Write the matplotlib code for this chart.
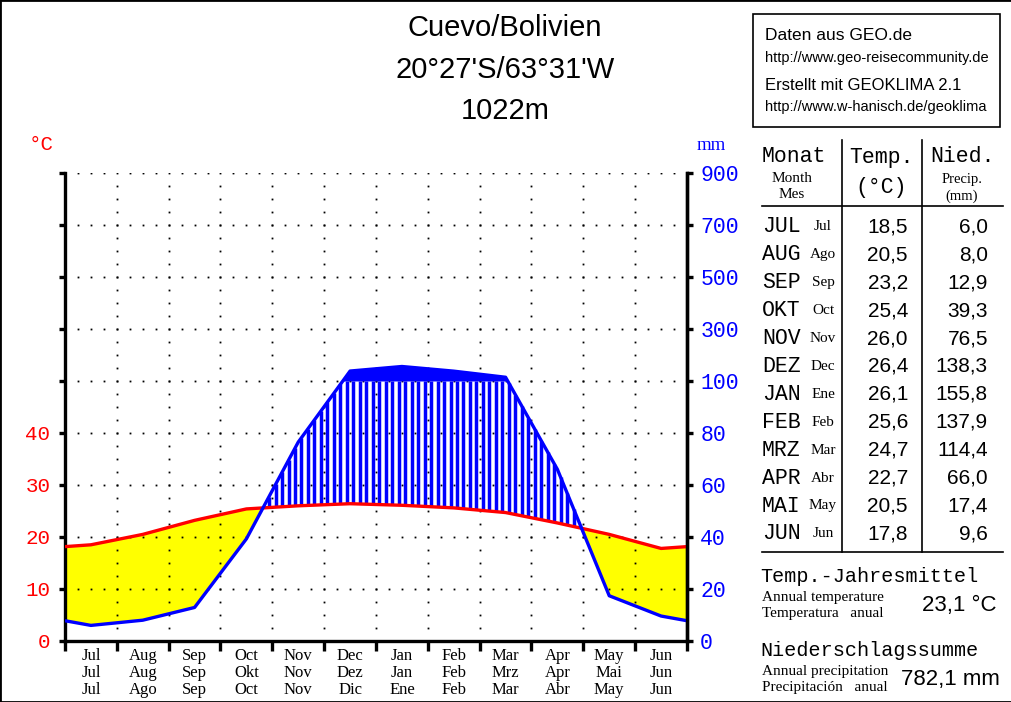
import matplotlib

matplotlib.use("Agg")
import matplotlib.pyplot as plt
import numpy as np
from matplotlib.patches import Rectangle

# climate data Cuevo / Bolivien, Jul..Jun
months_en = ["Jul", "Aug", "Sep", "Oct", "Nov", "Dec", "Jan", "Feb", "Mar", "Apr", "May", "Jun"]
months_de = ["Jul", "Aug", "Sep", "Okt", "Nov", "Dez", "Jan", "Feb", "Mrz", "Apr", "Mai", "Jun"]
months_es = ["Jul", "Ago", "Sep", "Oct", "Nov", "Dic", "Ene", "Feb", "Mar", "Abr", "May", "Jun"]
table_de = ["JUL", "AUG", "SEP", "OKT", "NOV", "DEZ", "JAN", "FEB", "MRZ", "APR", "MAI", "JUN"]
table_es = ["Jul", "Ago", "Sep", "Oct", "Nov", "Dec", "Ene", "Feb", "Mar", "Abr", "May", "Jun"]
temp = [18.5, 20.5, 23.2, 25.4, 26.0, 26.4, 26.1, 25.6, 24.7, 22.7, 20.5, 17.8]
prec = [6.0, 8.0, 12.9, 39.3, 76.5, 138.3, 155.8, 137.9, 114.4, 66.0, 17.4, 9.6]
temp_mean = "23,1 °C"
prec_sum = "782,1 mm"

W, H = 1012, 702
RED = "#ff0000"
BLUE = "#0000ff"
YELLOW = "#ffff00"
MONO = "Liberation Mono"
SERIF = "Liberation Serif"
SANS = "Liberation Sans"


def px(x, y):
    return x / W, 1 - y / H


def scale_prec(p):
    # 20 mm = 10 degC up to 100 mm, above that 200 mm = 10 degC
    p = np.asarray(p, dtype=float)
    return np.where(p <= 100, p / 2.0, 50 + (p - 100) / 20.0)


fig = plt.figure(figsize=(W / 100, H / 100), dpi=100)
ax = fig.add_axes([65 / W, 61 / H, 622 / W, 468 / H])
ax.set_xlim(0, 12)
ax.set_ylim(0, 90)

# curve points: month centres plus edge values (mean of Jun/Jul)
x = np.concatenate([[0], np.arange(12) + 0.5, [12]])
t = np.concatenate([[(temp[0] + temp[-1]) / 2], temp, [(temp[0] + temp[-1]) / 2]])
p = np.concatenate([[(prec[0] + prec[-1]) / 2], prec, [(prec[0] + prec[-1]) / 2]])
ps = scale_prec(p)

xf = np.linspace(0, 12, 2401)
tf = np.interp(xf, x, t)
pf = np.interp(xf, x, ps)

# arid season
ax.fill_between(xf, pf, tf, where=tf >= pf, interpolate=True, color=YELLOW, lw=0, zorder=1)

# dotted grid
gx = np.arange(1, 48) * 0.25
for yy in range(10, 100, 10):
    ax.plot(gx, np.full_like(gx, yy), "s", ms=1.3, mew=0, color="black", zorder=2)
gy = np.arange(1, 36) * 2.5
for xx in range(1, 12):
    ax.plot(np.full_like(gy, xx), gy, "s", ms=1.3, mew=0, color="black", zorder=2)

# humid season hatching
xh = np.arange(0, 12, 1 / 8) + 1 / 16
th = np.interp(xh, x, t)
ph = np.interp(xh, x, ps)
m = ph > th
ax.vlines(xh[m], th[m], np.minimum(ph[m], 50), color=BLUE, lw=2.5, zorder=3)

# perhumid (> 100 mm)
ax.fill_between(xf, 50, pf, where=pf > 50, interpolate=True, color=BLUE, lw=0, zorder=3)

ax.plot(x, t, color=RED, lw=2.4, zorder=5, solid_capstyle="butt")
ax.plot(x, ps, color=BLUE, lw=2.4, zorder=6, solid_capstyle="butt")

# axes
for s in ["left", "right", "bottom"]:
    ax.spines[s].set_linewidth(2.4)
ax.spines["top"].set_visible(False)
ax.set_facecolor("none")

ax.set_xticks(range(13))
ax.set_xticklabels([])
ax.tick_params(axis="x", length=7, width=2.4, direction="out")

ax.set_yticks(range(0, 100, 10))
ax.set_yticklabels(["0", "10", "20", "30", "40", "", "", "", "", ""])
ax.tick_params(axis="y", length=4.5, width=2.4, direction="out", labelcolor=RED, pad=6)
for lab in ax.get_yticklabels():
    lab.set_fontfamily(MONO)
    lab.set_fontsize(15)

ax2 = ax.twinx()
ax2.set_ylim(0, 90)
ax2.set_yticks(range(0, 100, 10))
ax2.set_yticklabels(["0", "20", "40", "60", "80", "100", "300", "500", "700", "900"])
ax2.tick_params(axis="y", length=4.5, width=2.4, direction="out", labelcolor=BLUE, pad=5)
for lab in ax2.get_yticklabels():
    lab.set_fontfamily(MONO)
    lab.set_fontsize(15.5)
for s in ["left", "top", "bottom"]:
    ax2.spines[s].set_visible(False)
ax2.spines["right"].set_linewidth(2.4)

for i in range(12):
    ax.text(i + 0.5, -0.033, months_en[i], transform=ax.get_xaxis_transform(),
            ha="center", va="center", fontsize=12, family=SERIF)
    ax.text(i + 0.5, -0.068, months_de[i], transform=ax.get_xaxis_transform(),
            ha="center", va="center", fontsize=12, family=SERIF)
    ax.text(i + 0.5, -0.104, months_es[i], transform=ax.get_xaxis_transform(),
            ha="center", va="center", fontsize=12, family=SERIF)

fig.text(*px(41, 145), "°C", color=RED, ha="center", va="center", fontsize=15, family=MONO)
fig.text(*px(711, 146), "mm", color=BLUE, ha="center", va="center", fontsize=13.5, family=SERIF)

# title
fig.text(*px(505, 28), "Cuevo/Bolivien", ha="center", va="center", fontsize=21, family=SANS)
fig.text(*px(505, 70), "20°27'S/63°31'W", ha="center", va="center", fontsize=21, family=SANS)
fig.text(*px(505, 111), "1022m", ha="center", va="center", fontsize=21, family=SANS)

# source box
fig.patches.append(Rectangle(px(753, 127), 247 / W, 113 / H, transform=fig.transFigure,
                             fill=False, ec="black", lw=1.2))
fig.text(*px(765, 35), "Daten aus GEO.de", va="center", fontsize=12.5, family=SANS)
fig.text(*px(765, 58), "http://www.geo-reisecommunity.de", va="center", fontsize=10.5, family=SANS)
fig.text(*px(765, 85), "Erstellt mit GEOKLIMA 2.1", va="center", fontsize=12, family=SANS)
fig.text(*px(765, 107), "http://www.w-hanisch.de/geoklima", va="center", fontsize=10.5, family=SANS)

# table
for xl in (842, 922):
    fig.add_artist(plt.Line2D([xl / W, xl / W], [1 - 140 / H, 1 - 552 / H], color="black", lw=1.2))
for yl in (206, 552):
    fig.add_artist(plt.Line2D([762 / W, 1003 / W], [1 - yl / H, 1 - yl / H], color="black", lw=1.2))

fig.text(*px(794, 157), "Monat", ha="center", va="center", fontsize=15.5, family=MONO)
fig.text(*px(792, 178), "Month", ha="center", va="center", fontsize=11, family=SERIF)
fig.text(*px(792, 195), "Mes", ha="center", va="center", fontsize=11, family=SERIF)
fig.text(*px(881, 157), "Temp.", ha="center", va="center", fontsize=15.5, family=MONO)
fig.text(*px(881, 187), "(°C)", ha="center", va="center", fontsize=15.5, family=MONO)
fig.text(*px(962, 157), "Nied.", ha="center", va="center", fontsize=15.5, family=MONO)
fig.text(*px(962, 180), "Precip.", ha="center", va="center", fontsize=10.5, family=SERIF)
fig.text(*px(962, 196), "(mm)", ha="center", va="center", fontsize=10.5, family=SERIF)

for i in range(12):
    yr = 227 + i * 27.9
    fig.text(*px(762, yr), table_de[i], va="center", fontsize=15.5, family=MONO)
    fig.text(*px(823, yr), table_es[i], ha="center", va="center", fontsize=11, family=SERIF)
    fig.text(*px(908, yr), f"{temp[i]:.1f}".replace(".", ","), ha="right", va="center",
             fontsize=15, family=SANS)
    fig.text(*px(988, yr), f"{prec[i]:.1f}".replace(".", ","), ha="right", va="center",
             fontsize=15, family=SANS)

fig.text(*px(760, 576), "Temp.-Jahresmittel", va="center", fontsize=14.5, family=MONO)
fig.text(*px(762, 597), "Annual temperature", va="center", fontsize=11, family=SERIF)
fig.text(*px(762, 613), "Temperatura   anual", va="center", fontsize=11, family=SERIF)
fig.text(*px(997, 606), temp_mean, ha="right", va="center", fontsize=16, family=SANS)
fig.text(*px(760, 651), "Niederschlagssumme", va="center", fontsize=14.5, family=MONO)
fig.text(*px(762, 671), "Annual precipitation", va="center", fontsize=11, family=SERIF)
fig.text(*px(762, 687), "Precipitación   anual", va="center", fontsize=11, family=SERIF)
fig.text(*px(1000, 680), prec_sum, ha="right", va="center", fontsize=16, family=SANS)

# outer frame
fig.patches.append(Rectangle((0, 0), 1, 1, transform=fig.transFigure, fill=False, ec="black", lw=2))

fig.savefig("out.png", dpi=100)
